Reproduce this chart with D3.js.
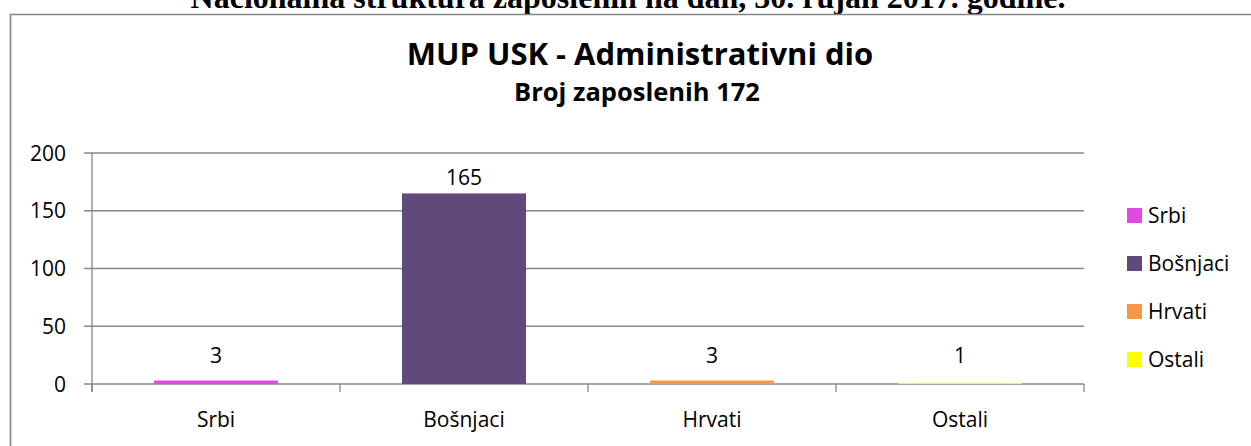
<!DOCTYPE html>
<html>
<head>
  <meta charset="utf-8">
  <title>MUP USK - Administrativni dio</title>
  <script src="https://d3js.org/d3.v7.min.js"></script>
  <style>
    body {
      margin: 0;
      padding: 0;
      background-color: #ffffff;
    }
    svg {
      display: block;
    }
    .lbl {
      font-family: "Open Sans", sans-serif;
      font-size: 21px;
      fill: #000;
    }
    .grid line {
      stroke: #868686;
      stroke-width: 1.3;
    }
  </style>
</head>
<body>
  <div id="chart"></div>

  <script>
    // Data
    const categories = ['Srbi', 'Bošnjaci', 'Hrvati', 'Ostali'];
    const values = [3, 165, 3, 1];
    const colors = ['#E04AE0', '#604A7B', '#F79646', '#FFFF00'];
    const yTicks = [0, 50, 100, 150, 200];
    const pageTitle = 'Nacionalna struktura zaposlenih na dan, 30. rujan 2017. godine.';
    const chartTitle = 'MUP USK - Administrativni dio';
    const chartSubtitle = 'Broj zaposlenih 172';

    const width = 1251, height = 446;
    const plot = { left: 92, right: 1084, top: 153, bottom: 384 };

    const svg = d3.select('#chart')
      .append('svg')
      .attr('width', width)
      .attr('height', height);

    svg.append('rect')
      .attr('width', width)
      .attr('height', height)
      .attr('fill', '#ffffff');

    // document heading, cut off at the top edge like in the source
    svg.append('text')
      .attr('x', 628)
      .attr('y', 8)
      .attr('text-anchor', 'middle')
      .attr('font-family', '"Liberation Serif", "Times New Roman", serif')
      .attr('font-weight', 'bold')
      .attr('font-size', 32)
      .text(pageTitle);

    // chart frame (right and bottom edges fall outside the picture)
    svg.append('path')
      .attr('d', `M10.5,${height + 5}V14.5H${width + 5}`)
      .attr('fill', 'none')
      .attr('stroke', '#868686')
      .attr('stroke-width', 1.6);

    // titles
    svg.append('text')
      .attr('x', 640)
      .attr('y', 65)
      .attr('text-anchor', 'middle')
      .attr('font-family', '"Open Sans", sans-serif')
      .attr('font-weight', 'bold')
      .attr('font-size', 31)
      .text(chartTitle);

    svg.append('text')
      .attr('x', 637)
      .attr('y', 101)
      .attr('text-anchor', 'middle')
      .attr('font-family', '"Open Sans", sans-serif')
      .attr('font-weight', 'bold')
      .attr('font-size', 25.5)
      .text(chartSubtitle);

    const x = d3.scaleBand()
      .domain(categories)
      .range([plot.left, plot.right])
      .paddingInner(0.5)
      .paddingOuter(0.25);

    const y = d3.scaleLinear()
      .domain([0, 200])
      .range([plot.bottom, plot.top]);

    // gridlines
    svg.append('g')
      .attr('class', 'grid')
      .selectAll('line')
      .data(yTicks)
      .enter()
      .append('line')
      .attr('x1', plot.left - 8)
      .attr('x2', plot.right)
      .attr('y1', d => y(d))
      .attr('y2', d => y(d));

    // y axis line
    svg.append('line')
      .attr('x1', plot.left)
      .attr('x2', plot.left)
      .attr('y1', plot.top)
      .attr('y2', plot.bottom + 8)
      .attr('stroke', '#868686')
      .attr('stroke-width', 1.3);

    // x tick marks at category boundaries
    const step = x.step();
    const bounds = d3.range(categories.length + 1).map(i => plot.left + i * step);
    svg.append('g')
      .selectAll('line')
      .data(bounds)
      .enter()
      .append('line')
      .attr('x1', d => d)
      .attr('x2', d => d)
      .attr('y1', plot.bottom)
      .attr('y2', plot.bottom + 8)
      .attr('stroke', '#868686')
      .attr('stroke-width', 1.3);

    // y tick labels
    svg.append('g')
      .selectAll('text')
      .data(yTicks)
      .enter()
      .append('text')
      .attr('class', 'lbl')
      .attr('x', plot.left - 26)
      .attr('y', d => y(d))
      .attr('dy', '0.36em')
      .attr('text-anchor', 'end')
      .text(d => d);

    // bars
    svg.append('g')
      .selectAll('rect')
      .data(values)
      .enter()
      .append('rect')
      .attr('x', (d, i) => x(categories[i]))
      .attr('y', d => y(d))
      .attr('width', x.bandwidth())
      .attr('height', d => y(0) - y(d))
      .attr('fill', (d, i) => colors[i]);

    // value labels
    svg.append('g')
      .selectAll('text')
      .data(values)
      .enter()
      .append('text')
      .attr('class', 'lbl')
      .attr('x', (d, i) => x(categories[i]) + x.bandwidth() / 2)
      .attr('y', d => Math.min(y(d) - 8, y(0) - 21))
      .attr('text-anchor', 'middle')
      .text(d => d);

    // category labels
    svg.append('g')
      .selectAll('text')
      .data(categories)
      .enter()
      .append('text')
      .attr('class', 'lbl')
      .attr('x', d => x(d) + x.bandwidth() / 2)
      .attr('y', 427)
      .attr('text-anchor', 'middle')
      .text(d => d);

    // legend
    const legend = svg.append('g')
      .selectAll('g')
      .data(categories)
      .enter()
      .append('g')
      .attr('transform', (d, i) => `translate(1127, ${215 + i * 48})`);

    legend.append('rect')
      .attr('x', 0)
      .attr('y', -7)
      .attr('width', 15)
      .attr('height', 15)
      .attr('fill', (d, i) => colors[i]);

    legend.append('text')
      .attr('class', 'lbl')
      .attr('x', 21)
      .attr('y', 0)
      .attr('dy', '0.36em')
      .text(d => d);
  </script>
</body>
</html>
